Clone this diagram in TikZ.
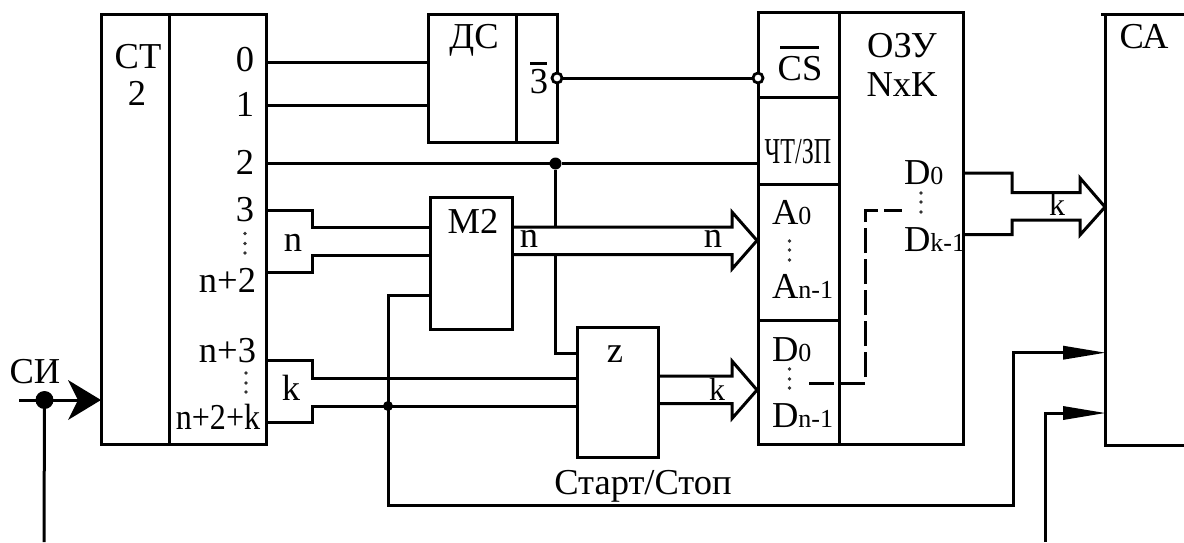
\documentclass[tikz,border=0pt]{standalone}
\usepackage{fontspec}
\usepackage{graphicx}
\setmainfont{Liberation Serif}
\usetikzlibrary{calc}
\newcommand{\sm}[1]{{\fontsize{26}{26}\selectfont #1}}
\tikzset{
  box/.style={draw,line width=3pt,inner sep=0,outer sep=0,fill=none},
  lab/.style={font=\fontsize{36.5}{36.5}\selectfont,anchor=base,inner sep=0,outer sep=0},
  labr/.style={lab,anchor=base east},
  labl/.style={lab,anchor=base west},
  labs/.style={lab,font=\fontsize{32}{32}\selectfont},
  wire/.style={line width=3pt,line join=miter},
  thinwire/.style={line width=3pt,line join=miter},
  jdot/.style={circle,fill=black,inner sep=0,outer sep=0,minimum size=#1},
  bub/.style={circle,draw,line width=2.8pt,fill=white,inner sep=0,outer sep=0,minimum size=10pt},
  vdot/.style={circle,fill=black!80,inner sep=0,outer sep=0,minimum size=3.8pt},
}
\begin{document}
\begin{tikzpicture}[x=1pt,y=-1pt]
\useasboundingbox (0,0) rectangle (1184,542);
% blocks
\node[box,minimum width=165pt,minimum height=430pt] (ct) at (183.5,229) {};
\node[box,minimum width=129pt,minimum height=128pt] (dc) at (492.5,78) {};
\node[box,minimum width=82pt,minimum height=132pt] (m2) at (471,263) {};
\node[box,minimum width=81pt,minimum height=130pt] (z) at (617.5,392) {};
\node[box,minimum width=205pt,minimum height=432pt] (ram) at (860.5,228) {};
% internal dividers
\coordinate (ctd) at (169,14);
\draw[wire] (ctd) -- (ctd |- ct.south);
\coordinate (dcd) at (516,14);
\draw[wire] (dcd) -- (dcd |- dc.south);
\coordinate (ramd) at (839,12);
\draw[wire] (ramd) -- (ramd |- ram.south);
\coordinate (r1) at (758,97);
\coordinate (r2) at (758,184);
\coordinate (r3) at (758,320);
\draw[wire] (r1) -- (r1 -| ramd);
\draw[wire] (r2) -- (r2 -| ramd);
\draw[wire] (r3) -- (r3 -| ramd);
% CA block (open on the right)
\coordinate (ca1) at (1101,14);
\coordinate (ca2) at (1105,14);
\coordinate (ca3) at (1105,445);
\coordinate (ca4) at (1184,445);
\coordinate (ca5) at (1184,14);
\draw[wire] (ca5) -- (ca1);
\draw[wire] (ca2) -- (ca3) -- (ca4);
% counter outputs
\coordinate (o0) at (266,62.5);
\coordinate (o1) at (266,105.5);
\coordinate (o2) at (266,163.5);
\draw[wire] (o0) -- (o0 -| dc.west);
\draw[wire] (o1) -- (o1 -| dc.west);
\node[jdot=12pt] (j2) at (555.5,163.5) {};
\draw[wire] (o2) -- (j2) -- (j2 -| ram.west);
% chip select
\node[bub] (b1) at (557,78) {};
\node[bub] (b2) at (758,78) {};
\draw[wire] (b1) -- (b2);
% n bus into M2
\coordinate (n1) at (266,210.5);
\coordinate (n2) at (312,210.5);
\coordinate (n3) at (312,227);
\coordinate (n4) at (312,255);
\coordinate (n5) at (312,272);
\coordinate (n6) at (266,272);
\draw[wire] (n1) -- (n2) -- (n3) -- (n3 -| m2.west);
\draw[wire] (n6) -- (n5) -- (n4) -- (n4 -| m2.west);
% k bus into z
\coordinate (k1) at (266,360.7);
\coordinate (k2) at (312,360.7);
\coordinate (k3) at (312,378);
\coordinate (k4) at (312,406);
\coordinate (k5) at (312,422.7);
\coordinate (k6) at (266,422.7);
\draw[wire] (k1) -- (k2) -- (k3) -- (k3 -| z.west);
\draw[wire] (k6) -- (k5) -- (k4) -- (k4 -| z.west);
% M2 output bus
\coordinate (ma) at (512,227);
\coordinate (mb) at (512,254.5);
\coordinate (mt) at (757,240.5);
\draw[wire] (ma) -- (732,227) -- (732,212) -- (mt) -- (732,269) -- (732,254.5) -- (mb);
% z output bus
\coordinate (za) at (658,376);
\coordinate (zb) at (658,403.5);
\coordinate (zt) at (757,390);
\draw[wire] (za) -- (732,376) -- (732,361) -- (zt) -- (732,418.5) -- (732,403.5) -- (zb);
% control line from 2 to M2 bus and z
\coordinate (c1) at (555.5,227);
\coordinate (c2) at (555.5,254.5);
\coordinate (c3) at (555.5,353);
\draw[thinwire] (j2) -- (c1);
\draw[thinwire] (c2) -- (c3) -- (c3 -| z.west);
% feedback line
\node[jdot=10pt] (j3) at (388,406) {};
\coordinate (f0) at (388,295);
\coordinate (f1) at (388,505);
\coordinate (f2) at (1013,505);
\coordinate (f3) at (1013,352.7);
\coordinate (f4) at (1063,352.7);
\draw[thinwire] (f0 -| m2.west) -- (f0) -- (f1) -- (f2) -- (f3) -- (f4);
\fill (f4 |- 0,345.7) -- (1105,352.7) -- (1063,359.7) -- cycle;
% second line to CA
\coordinate (g1) at (1045,542);
\coordinate (g2) at (1045,413);
\coordinate (g3) at (1063,413);
\draw[thinwire] (g1) -- (g2) -- (g3);
\fill (1063,406) -- (1105,413) -- (1063,420) -- cycle;
% RAM output bus
\coordinate (da) at (963,173);
\coordinate (db) at (1012,173);
\coordinate (dc1) at (1012,192.7);
\coordinate (dd) at (1012,220);
\coordinate (de) at (1012,234.5);
\coordinate (df) at (963,234.5);
\draw[wire] (da) -- (db) -- (dc1) -- (1080,192.7) -- (1080,178) -- (1105,207) -- (1080,235) -- (1080,220) -- (dd) -- (de) -- (df);
% dashed
\coordinate (h1) at (809,383);
\coordinate (h2) at (865,383);
\coordinate (h3) at (865,210);
\coordinate (h4) at (902,210);
\draw[wire,dash pattern=on 25pt off 6pt] (h1) -- (h2) -- (h3) -- (h4);
% clock
\coordinate (s0) at (19,400);
\node[jdot=18pt] (j1) at (44.5,400) {};
\coordinate (s1) at (44,542);
\coordinate (s2) at (78,400);
\draw[wire] (s0) -- (s2);
\draw[thinwire] (j1) -- (s1);
\fill (101,400) -- (68,380) -- (78,400) -- (68,420) -- cycle;
% texts
\node[lab] (tct) at (138,68) {СТ};
\node[lab] (tct2) at (137,105) {2};
\node[lab] (t0) at (245,71) {0};
\node[lab] (t1) at (245,116) {1};
\node[lab] (t2) at (245,174) {2};
\node[lab] (t3) at (245,221) {3};
\node[labr] (tn2) at (256,292) {n+2};
\node[labr] (tn3) at (256,362) {n+3};
\node[lab] (tn2k) at (218,429) {\scalebox{.88}[1]{n+2+k}};
\node[lab] (tn) at (293,251) {n};
\node[lab] (tk) at (291,400) {k};
\node[lab] (tdc) at (474,48) {ДС};
\node[lab] (tbar3) at (539,93) {3};
\draw[line width=2.8pt] (530,63.5) -- (547,63.5);
\node[lab] (tm2) at (473,233) {М2};
\node[lab] (tn4) at (529,247) {n};
\node[lab] (tn5) at (713,247) {n};
\node[lab] (tz) at (615,362) {z};
\node[labs] (tk2) at (717,400) {k};
\node[labs] (tk3) at (1057,215) {k};
\node[lab] (tss) at (643,494) {Старт/Стоп};
\node[lab] (tcs) at (800,80) {CS};
\draw[line width=2.8pt] (780,47.5) -- (819,47.5);
\node[lab] (tram) at (902,57) {ОЗУ};
\node[lab] (tnk) at (902,96) {NxK};
\node[lab] (trw) at (798,163) {\scalebox{.66}[1]{ЧТ/ЗП}};
\node[labl] (ta0) at (772,224) {A\sm{0}};
\node[labl] (tan) at (772,298) {A\sm{n-1}};
\node[labl] (td0) at (772,361) {D\sm{0}};
\node[labl] (tdn) at (772,427) {D\sm{n-1}};
\node[labl] (tq0) at (904,184) {D\sm{0}};
\node[labl] (tqk) at (904,251) {D\sm{k-1}};
\node[lab] (tca) at (1144,48) {СА};
\node[lab] (tsi) at (35,383) {СИ};
% vertical ellipsis dots
\foreach \i/\x/\y in {a/245/233.5,b/245/243.5,c/245/253,
  d/246/373,e/246/383,f/246/392,
  g/789.5/241,h/789.5/250,i/789.5/260,
  j/789.5/369,k/789.5/379,l/789.5/388,
  m/921/193,n/921/202,o/921/212}
  \node[vdot] (v\i) at (\x,\y) {};
\end{tikzpicture}
\end{document}
